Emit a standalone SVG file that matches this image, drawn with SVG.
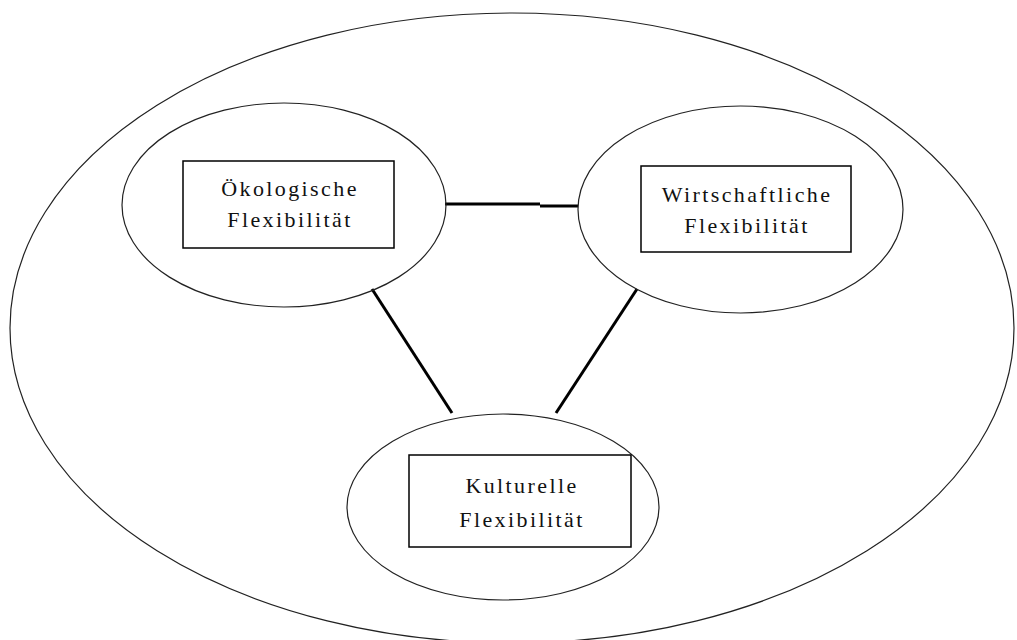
<svg xmlns="http://www.w3.org/2000/svg" width="1017" height="640" viewBox="0 0 1017 640">
  <style>
    .ring { fill: none; stroke: #222; stroke-width: 1.2; }
    .box { fill: #fff; stroke: #000; stroke-width: 1.5; }
    .label { font-family: "Liberation Serif", "Times New Roman", serif; font-size: 22px; letter-spacing: 2.4px; fill: #111; text-anchor: middle; }
    .link { stroke: #000; stroke-width: 3; fill: none; stroke-linecap: butt; }
  </style>
  <rect width="1017" height="640" fill="#fff"/>

  <!-- enclosing system -->
  <g id="system">
    <ellipse class="ring" cx="512" cy="328" rx="502" ry="315"/>
  </g>

  <!-- connectors between the three flexibility areas -->
  <g id="connectors">
    <path class="link" d="M445,204 L540,204 M540,206 L578,206"/>
    <line class="link" x1="372" y1="289" x2="452" y2="413"/>
    <line class="link" x1="637" y1="289" x2="556" y2="413"/>
  </g>

  <g id="oekologisch">
    <ellipse class="ring" cx="284" cy="205" rx="162" ry="102"/>
    <rect class="box" x="183" y="161" width="211" height="87"/>
    <text class="label" x="290" y="196">Ökologische</text>
    <text class="label" x="290" y="227">Flexibilität</text>
  </g>

  <g id="wirtschaftlich">
    <ellipse class="ring" cx="740.5" cy="209.5" rx="162.5" ry="103.5"/>
    <rect class="box" x="641" y="166" width="210" height="86"/>
    <text class="label" x="747" y="202">Wirtschaftliche</text>
    <text class="label" x="747" y="233">Flexibilität</text>
  </g>

  <g id="kulturell">
    <ellipse class="ring" cx="503" cy="507" rx="156" ry="93"/>
    <rect class="box" x="409" y="455" width="222" height="92"/>
    <text class="label" x="522" y="493">Kulturelle</text>
    <text class="label" x="522" y="527">Flexibilität</text>
  </g>
</svg>
